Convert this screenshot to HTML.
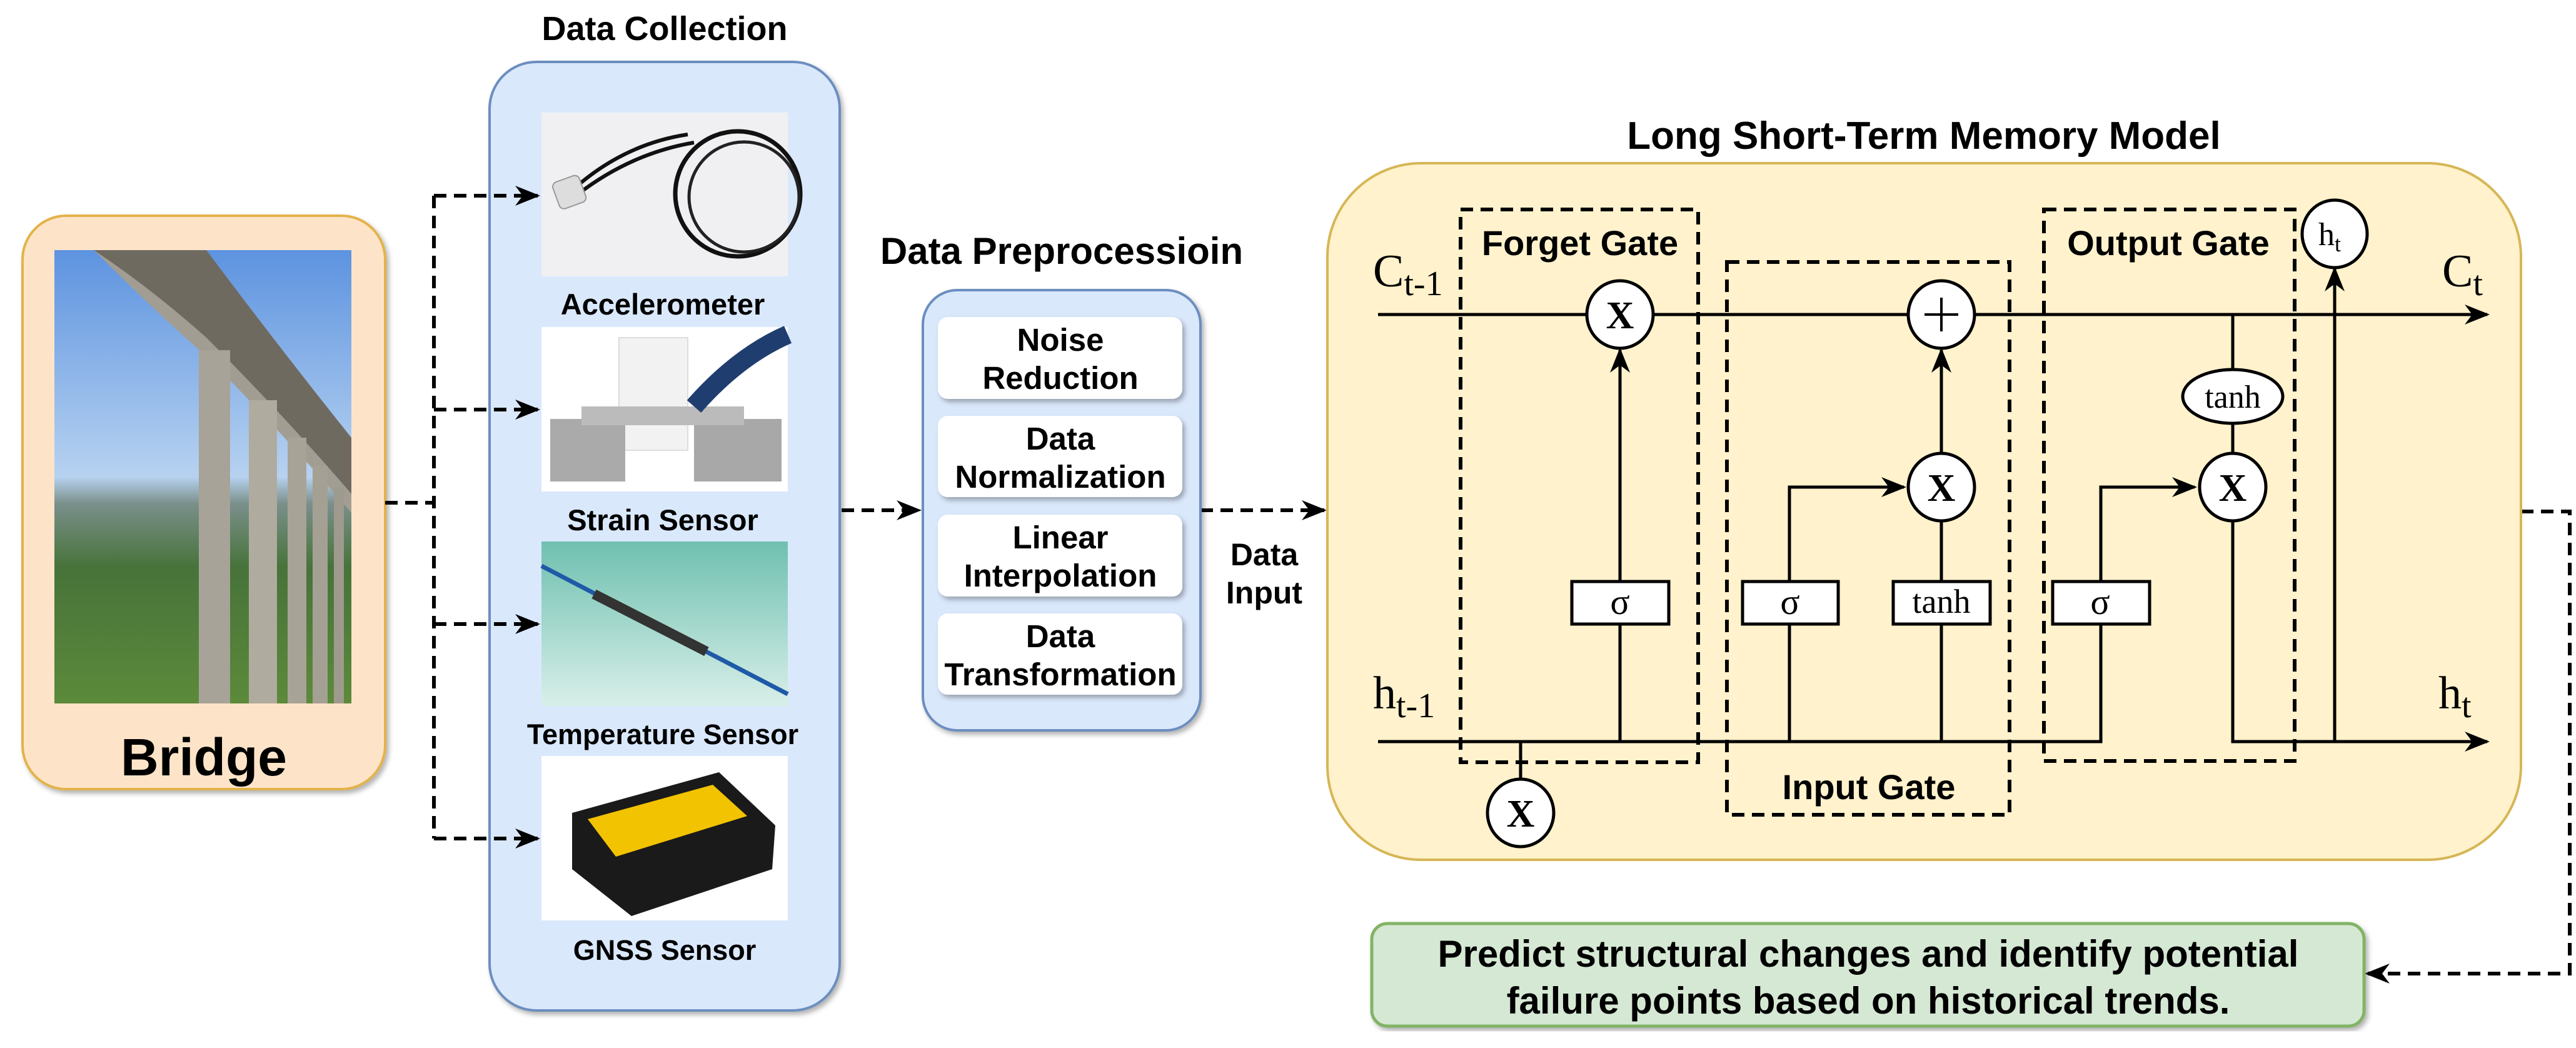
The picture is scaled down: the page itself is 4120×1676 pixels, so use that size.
<!DOCTYPE html>
<html><head><meta charset="utf-8"><style>
html,body{margin:0;padding:0;background:#fff;}
svg{display:block;}
.t{font-family:"Liberation Sans",sans-serif;font-weight:bold;fill:#000;}
.s{font-family:"Liberation Serif",serif;fill:#000;}
</style></head><body>
<svg width="4120" height="1676" viewBox="0 0 4120 1676" xmlns="http://www.w3.org/2000/svg">
<defs>
<marker id="ab" viewBox="0 0 10 10" refX="9" refY="5" markerWidth="40" markerHeight="40" orient="auto" markerUnits="userSpaceOnUse"><path d="M0,1 L10,5 L0,9 L3,5 z" fill="#000"/></marker>
<linearGradient id="sky" x1="0" y1="0" x2="0" y2="1"><stop offset="0" stop-color="#5d93e0"/><stop offset="0.5" stop-color="#b7d2f0"/><stop offset="0.56" stop-color="#7a8f8a"/><stop offset="0.7" stop-color="#47733a"/><stop offset="1" stop-color="#5c8a3a"/></linearGradient>
<linearGradient id="teal" x1="0" y1="0" x2="0" y2="1"><stop offset="0" stop-color="#6fc0b0"/><stop offset="1" stop-color="#d8efe9"/></linearGradient>
<filter id="sh" x="-5%" y="-5%" width="110%" height="110%"><feDropShadow dx="4" dy="5" stdDeviation="4" flood-opacity="0.3"/></filter>
</defs>

<rect x="36" y="345" width="580" height="917" rx="70" fill="#fde4c8" stroke="#e3b24a" stroke-width="4" filter="url(#sh)"/>
<rect x="87" y="400" width="475" height="725" fill="url(#sky)"/>
<path d="M150,400 L330,400 Q450,560 562,700 L562,790 Q450,660 330,540 Q240,460 150,400 Z" fill="#6f6a60"/>
<path d="M150,400 Q240,460 330,540 Q450,660 562,790 L562,820 Q450,690 330,570 Q240,490 150,400 Z" fill="#a29d92"/>
<rect x="318" y="560" width="50" height="565" fill="#a7a398"/>
<rect x="398" y="640" width="45" height="485" fill="#b0ab9f"/>
<rect x="460" y="700" width="30" height="425" fill="#a8a397"/>
<rect x="500" y="745" width="24" height="380" fill="#a5a094"/>
<rect x="534" y="780" width="16" height="345" fill="#9f9a8e"/>
<text x="326" y="1240" class="t" font-size="84" text-anchor="middle">Bridge</text>

<text x="1063" y="64" class="t" font-size="54" text-anchor="middle">Data Collection</text>
<rect x="783" y="99" width="560" height="1517" rx="75" fill="#dae8fc" stroke="#6c8ebf" stroke-width="4" filter="url(#sh)"/>
<rect x="866" y="180" width="394" height="262" fill="#f0f0f2"/>
<circle cx="1180" cy="310" r="100" fill="none" stroke="#111" stroke-width="7"/>
<circle cx="1190" cy="315" r="88" fill="none" stroke="#222" stroke-width="5"/>
<path d="M920,300 Q1000,230 1100,215" fill="none" stroke="#111" stroke-width="6"/>
<path d="M925,310 Q1010,245 1110,228" fill="none" stroke="#111" stroke-width="6"/>
<rect x="888" y="285" width="45" height="45" rx="8" fill="#ddd" stroke="#999" stroke-width="2" transform="rotate(-20 910 307)"/>
<text x="1060" y="503" class="t" font-size="47" text-anchor="middle">Accelerometer</text>
<rect x="866" y="523" width="394" height="263" fill="#fff"/>
<rect x="990" y="540" width="110" height="180" fill="#f2f2f2" stroke="#ddd" stroke-width="2"/>
<rect x="880" y="670" width="120" height="100" fill="#aaa"/>
<rect x="1110" y="670" width="140" height="100" fill="#a8a8a8"/>
<rect x="930" y="650" width="260" height="30" fill="#bbb"/>
<path d="M1110,650 Q1180,570 1260,535" fill="none" stroke="#1f3d6e" stroke-width="30"/>
<text x="1060" y="848" class="t" font-size="47" text-anchor="middle">Strain Sensor</text>
<rect x="866" y="866" width="394" height="263" fill="url(#teal)"/>
<path d="M866,905 L1260,1110" stroke="#1f5aa8" stroke-width="7"/>
<path d="M950,950 L1130,1042" stroke="#333" stroke-width="16"/>
<text x="1060" y="1190" class="t" font-size="45" text-anchor="middle">Temperature Sensor</text>
<rect x="866" y="1209" width="394" height="263" fill="#fff"/>
<path d="M915,1300 L1150,1235 L1240,1320 L1235,1390 L1010,1465 L915,1390 Z" fill="#1a1a1a"/>
<path d="M940,1310 L1140,1255 L1195,1305 L985,1370 Z" fill="#f2c300"/>
<text x="1063" y="1535" class="t" font-size="45" text-anchor="middle">GNSS Sensor</text>

<g stroke="#000" stroke-width="6" stroke-dasharray="20 12" fill="none">
<path d="M616,804 L694,804"/>
<path d="M694,313 L694,1341"/>
<path d="M694,313 L860,313" marker-end="url(#ab)"/>
<path d="M694,655 L860,655" marker-end="url(#ab)"/>
<path d="M694,998 L860,998" marker-end="url(#ab)"/>
<path d="M694,1341 L860,1341" marker-end="url(#ab)"/>
<path d="M1346,816 L1470,816" marker-end="url(#ab)"/>
<path d="M1920,816 L2118,816" marker-end="url(#ab)"/>
<path d="M4032,818 L4110,818 L4110,1557 L3786,1557" marker-end="url(#ab)"/>
</g>

<text x="1698" y="422" class="t" font-size="60" text-anchor="middle">Data Preprocessioin</text>
<rect x="1476" y="464" width="444" height="704" rx="55" fill="#dae8fc" stroke="#6c8ebf" stroke-width="4" filter="url(#sh)"/>
<g fill="#fff" filter="url(#sh)">
<rect x="1500" y="507" width="391" height="131" rx="16"/>
<rect x="1500" y="665" width="391" height="130" rx="16"/>
<rect x="1500" y="823" width="391" height="131" rx="16"/>
<rect x="1500" y="981" width="391" height="130" rx="16"/>
</g>
<g class="t" font-size="51" text-anchor="middle">
<text x="1696" y="561">Noise</text><text x="1696" y="622">Reduction</text>
<text x="1696" y="719">Data</text><text x="1696" y="780">Normalization</text>
<text x="1696" y="877">Linear</text><text x="1696" y="938">Interpolation</text>
<text x="1696" y="1035">Data</text><text x="1696" y="1096">Transformation</text>
</g>
<text x="2022" y="904" class="t" font-size="50" text-anchor="middle">Data</text>
<text x="2022" y="965" class="t" font-size="50" text-anchor="middle">Input</text>

<text x="3077" y="238" class="t" font-size="62" text-anchor="middle">Long Short-Term Memory Model</text>
<rect x="2123" y="261" width="1909" height="1114" rx="150" fill="#fff2cc" stroke="#d6b656" stroke-width="4"/>
<g stroke="#000" stroke-width="6" stroke-dasharray="20 12" fill="none">
<rect x="2336" y="335" width="380" height="884"/>
<rect x="2762" y="419" width="452" height="884"/>
<rect x="3269" y="335" width="401" height="882"/>
</g>
<g class="t" font-size="56" text-anchor="middle">
<text x="2527" y="408">Forget Gate</text>
<text x="2989" y="1278">Input Gate</text>
<text x="3468" y="408">Output Gate</text>
</g>
<g stroke="#000" stroke-width="5" fill="none">
<path d="M2204,503 L3978,503" marker-end="url(#ab)"/>
<path d="M2204,1186 L3360,1186 L3360,779 L3510,779" marker-end="url(#ab)"/>
<path d="M3571,779 L3571,1186 L3978,1186" marker-end="url(#ab)"/>
<path d="M2432,1186 L2432,1250"/>
<path d="M2591,1186 L2591,560" marker-end="url(#ab)"/>
<path d="M2862,1186 L2862,779 L3045,779" marker-end="url(#ab)"/>
<path d="M3105,1186 L3105,834"/>
<path d="M3105,725 L3105,560" marker-end="url(#ab)"/>
<path d="M3571,503 L3571,725"/>
<path d="M3734,1186 L3734,430" marker-end="url(#ab)"/>
</g>
<g fill="#fff" stroke="#000" stroke-width="5">
<rect x="2514" y="930" width="155" height="68"/>
<rect x="2787" y="930" width="153" height="68"/>
<rect x="3028" y="930" width="155" height="68"/>
<rect x="3283" y="930" width="155" height="68"/>
<ellipse cx="2591" cy="503" rx="53" ry="54"/>
<ellipse cx="3105" cy="503" rx="53" ry="54"/>
<ellipse cx="3105" cy="779" rx="53" ry="54"/>
<ellipse cx="3571" cy="779" rx="53" ry="54"/>
<ellipse cx="2432" cy="1300" rx="53" ry="54"/>
<ellipse cx="3571" cy="634" rx="80" ry="43"/>
<ellipse cx="3734" cy="374" rx="52" ry="54"/>
</g>
<path d="M3105,476 L3105,530 M3078,503 L3132,503" stroke="#000" stroke-width="4"/>
<g class="s" text-anchor="middle">
<text x="2591" y="525" font-size="62" font-weight="bold">X</text>
<text x="3105" y="801" font-size="62" font-weight="bold">X</text>
<text x="3571" y="801" font-size="62" font-weight="bold">X</text>
<text x="2432" y="1322" font-size="62" font-weight="bold">X</text>
<text x="2591" y="982" font-size="58">σ</text>
<text x="2863" y="982" font-size="58">σ</text>
<text x="3359" y="982" font-size="58">σ</text>
<text x="3105" y="980" font-size="54">tanh</text>
<text x="3571" y="652" font-size="52">tanh</text>
<text x="3726" y="392" font-size="52">h<tspan font-size="36" dy="10">t</tspan></text>
</g>
<g class="s" font-size="74">
<text x="2196" y="458">C<tspan font-size="56" dy="14">t-1</tspan></text>
<text x="2196" y="1133">h<tspan font-size="56" dy="14">t-1</tspan></text>
<text x="3906" y="458">C<tspan font-size="56" dy="14">t</tspan></text>
<text x="3900" y="1133">h<tspan font-size="56" dy="14">t</tspan></text>
</g>

<rect x="2194" y="1477" width="1587" height="164" rx="25" fill="#d5e8d4" stroke="#82b366" stroke-width="5" filter="url(#sh)"/>
<text x="2988" y="1546" class="t" font-size="60" text-anchor="middle">Predict structural changes and identify potential</text>
<text x="2988" y="1621" class="t" font-size="60" text-anchor="middle">failure points based on historical trends.</text>
</svg>
</body></html>
